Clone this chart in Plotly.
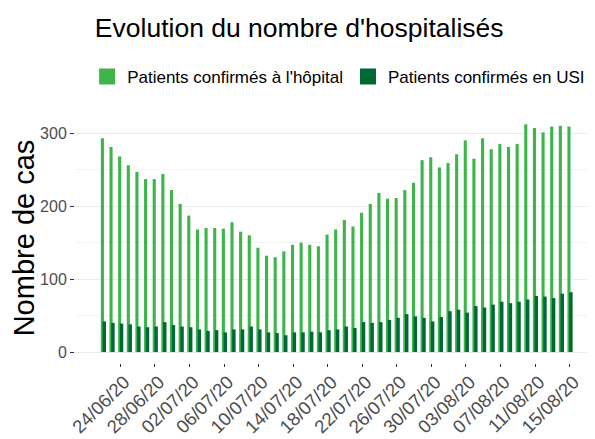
import plotly.graph_objects as go
import pandas as pd

dates = pd.date_range("2020-06-22", "2020-08-15", freq="D")
tick_dates = dates[2::4]

hopital = [293, 281, 268, 256, 247, 237, 237, 244, 222, 203,
           187, 168, 170, 170, 169, 178, 165, 160, 143, 132,
           130, 138, 147, 150, 147, 145, 161, 168, 181, 172,
           191, 203, 218, 210, 211, 222, 232, 263, 267, 253,
           259, 271, 290, 265, 293, 278, 285, 281, 285, 312,
           307, 301, 309, 310, 309]
usi = [42, 40, 39, 38, 35, 34, 35, 41, 37, 35,
       34, 31, 29, 30, 27, 31, 31, 35, 31, 27,
       26, 23, 27, 27, 28, 27, 30, 31, 35, 33,
       41, 40, 41, 44, 47, 52, 49, 47, 42, 48,
       56, 58, 54, 63, 61, 65, 69, 67, 69, 72,
       77, 76, 74, 80, 82]

DAY = 86400000
light = "#3db54a"
dark = "#006837"

fig = go.Figure()
fig.add_trace(go.Bar(x=dates, y=hopital, marker_color=light, marker_line_width=0,
                     offset=-0.26 * DAY, width=0.36 * DAY, showlegend=False,
                     name="Patients confirmés à l'hôpital"))
fig.add_trace(go.Bar(x=dates, y=usi, marker_color=dark, marker_line_width=0,
                     offset=-0.06 * DAY, width=0.4 * DAY, showlegend=False,
                     name="Patients confirmés en USI"))
# legend entries with big square keys
for nm, c in [("Patients confirmés à l'hôpital", light), ("Patients confirmés en USI", dark)]:
    fig.add_trace(go.Scatter(x=[None], y=[None], mode="markers", name=nm,
                             marker=dict(symbol="square", size=22, color=c)))

# the page body adds an 8px margin, so everything is placed 8px up/left
fig.update_layout(
    width=595, height=439,
    barmode="overlay",
    plot_bgcolor="white", paper_bgcolor="white",
    font=dict(family="Liberation Sans, Arial, sans-serif", color="#4d4d4d", size=16),
    title=dict(text="Evolution du nombre d'hospitalisés", x=0.146, xanchor="left",
               y=0.954, yanchor="middle", font=dict(size=26.5, color="black")),
    legend=dict(orientation="h", xref="container", yref="container",
                x=0.133, xanchor="left", y=0.843, yanchor="middle",
                font=dict(size=17, color="black"), itemwidth=30, traceorder="normal"),
    margin=dict(l=67, r=11, t=105, b=84, autoexpand=False),
)
fig.update_xaxes(type="date", tickformat="%d/%m/%y", tickvals=tick_dates, tickangle=-45,
                 range=[dates[0] - pd.Timedelta(hours=78), dates[-1] + pd.Timedelta(hours=62)],
                 showgrid=False, ticks="outside", ticklen=3, tickcolor="#333333",
                 tickfont=dict(size=18.5, color="#4d4d4d"), ticklabelstandoff=-3,
                 ticklabelshift=4, showline=False, zeroline=False, automargin=False)
fig.update_yaxes(range=[-15, 327.6], tickvals=[0, 100, 200, 300],
                 showgrid=True, gridcolor="#ebebeb", gridwidth=1,
                 minor=dict(tickvals=[50, 150, 250], showgrid=True, gridcolor="#f4f4f4"),
                 ticks="outside", ticklen=4, tickcolor="#333333",
                 tickfont=dict(size=16, color="#4d4d4d"),
                 title=dict(text="Nombre de cas", font=dict(size=29, color="black"), standoff=10),
                 zeroline=False, showline=False, automargin=False)

fig.write_html("out.html")
